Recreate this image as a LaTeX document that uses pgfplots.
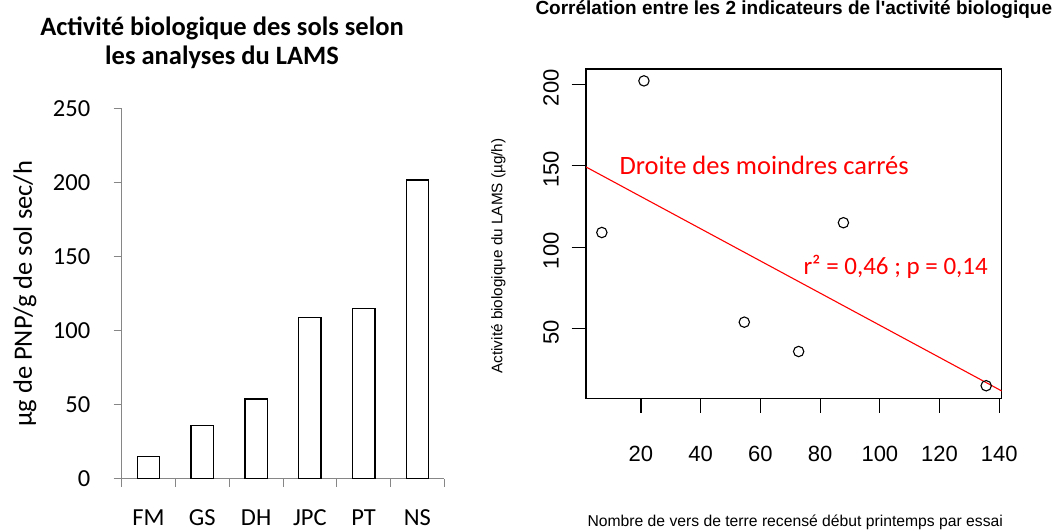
\documentclass[border=0pt]{standalone}
\usepackage{fontspec}
\setmainfont{Carlito}
\newfontfamily\arial{Liberation Sans}
\usepackage{pgfplots}
\pgfplotsset{compat=1.18}
\definecolor{axgray}{RGB}{134,134,134}
\begin{document}
\begin{tikzpicture}[x=1bp,y=1bp]
\useasboundingbox (0,0) rectangle (1057,530);
% ---------------- left: bar chart ----------------
\begin{axis}[
  at={(121.7bp,51bp)}, anchor=south west, scale only axis,
  width=322.6bp, height=370bp,
  xmin=0, xmax=6, ymin=0, ymax=250,
  axis x line=bottom, axis y line=left,
  axis line style={-, draw=axgray, line width=1bp},
  xtick={0,...,6}, xticklabels={},
  extra x ticks={0.5,1.5,2.5,3.5,4.5,5.5},
  extra x tick labels={FM,GS,DH,JPC,PT,NS},
  extra x tick style={major tick length=0pt},
  ytick={0,50,...,250},
  tick align=outside, major tick length=8bp,
  tick style={draw=axgray, line width=1bp},
  tick label style={font=\fontsize{24.5bp}{24.5bp}\selectfont},
  /pgf/number format/assume math mode=true,
  xticklabel style={anchor=base, yshift=-47bp},
  yticklabel style={anchor=east, xshift=-20bp},
]
\addplot[ybar, bar width=22.5bp, fill=white, draw=black, line width=1.3bp]
  coordinates {(0.5,15) (1.5,36) (2.5,54) (3.5,109) (4.5,115) (5.5,202)};
\end{axis}
% ---------------- right: scatter ----------------
\begin{axis}[
  at={(586bp,131.7bp)}, anchor=south west, scale only axis,
  width=415.7bp, height=329.3bp,
  xmin=1.6, xmax=140.8, ymin=7.3, ymax=209.3,
  axis line style={black, line width=1.2bp},
  xtick={20,40,...,140}, ytick={50,100,150,200},
  tick pos=left, tick align=outside, major tick length=14.5bp,
  tick style={black, line width=1.2bp},
  tick label style={font=\arial\fontsize{22bp}{22bp}\selectfont},
  /pgf/number format/assume math mode=true,
  xticklabel style={anchor=base, inner sep=0pt, yshift=-48.9bp},
  yticklabel style={rotate=90, anchor=south, inner sep=0pt, xshift=-3.5bp, yshift=12.5bp},
]
\addplot[only marks, mark=o, mark size=5.2bp, mark options={line width=1.1bp, draw=black}]
  coordinates {(6.9,109) (21,202) (54.6,54) (72.8,36) (87.8,115) (135.6,15)};
\addplot[red, line width=1.1bp] coordinates {(1.6,149.2) (140.8,11.8)};
\end{axis}
% ---------------- texts ----------------
\node[align=center, font=\bfseries\fontsize{26.5bp}{29bp}\selectfont, anchor=base, inner sep=0pt]
  at (222,465) {Activité biologique des sols selon\\les analyses du LAMS};
\node[rotate=90, font=\fontsize{26.5bp}{26.5bp}\selectfont, inner sep=0pt]
  at (25,236) {µg de PNP/g de sol sec/h};
\node[font=\arial\bfseries\fontsize{19bp}{19bp}\selectfont, anchor=base, inner sep=0pt]
  at (793.8,515.5) {Corrélation entre les 2 indicateurs de l'activité biologique};
\node[rotate=90, font=\arial\fontsize{15.3bp}{15.3bp}\selectfont, inner sep=0pt]
  at (498.4,274) {Activité biologique du LAMS (µg/h)};
\node[font=\arial\fontsize{15.7bp}{15.7bp}\selectfont, anchor=base, inner sep=0pt]
  at (795.2,3) {Nombre de vers de terre recensé début printemps par essai};
\node[anchor=base west, inner sep=0pt, text=red, font=\fontsize{26.5bp}{26.5bp}\selectfont]
  at (619.3,355) {Droite des moindres carrés};
\node[anchor=base west, inner sep=0pt, text=red, font=\fontsize{25bp}{25bp}\selectfont]
  at (803.3,255.7) {r² = 0,46 ; p = 0,14};
\end{tikzpicture}
\end{document}
